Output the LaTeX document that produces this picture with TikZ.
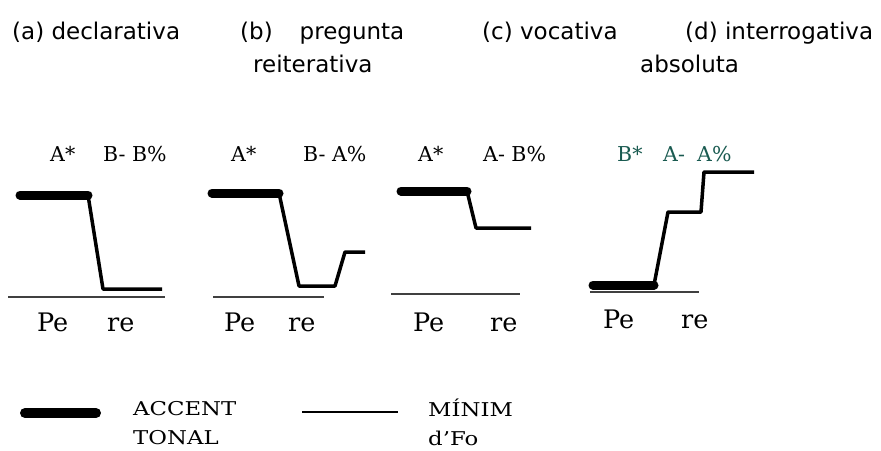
\documentclass[tikz,border=0pt]{standalone}
\usepackage{fontspec}
\setmainfont{DejaVu Serif}
\newfontfamily\titlefont{DejaVu Sans}
\definecolor{tealtone}{RGB}{25,90,80}
\begin{document}
\begin{tikzpicture}[x=1pt,y=-1pt,
  title/.style={anchor=base west,inner sep=0pt,font=\titlefont\fontsize{23}{28}\selectfont},
  tone/.style={anchor=base west,inner sep=0pt,font=\fontsize{20.5}{24}\selectfont},
  syl/.style={anchor=base west,inner sep=0pt,font=\fontsize{25.5}{28}\selectfont},
  leg/.style={anchor=base west,inner sep=0pt,font=\fontsize{19}{24}\selectfont},
  accentline/.style={line width=9pt,line cap=round,line join=round},
  contour/.style={line width=3.5pt,line join=round},
  minline/.style={line width=1.6pt,black!75}]
\useasboundingbox[fill=white] (0,0) rectangle (881,450);

% titles
\node[title] (ta) at (12,39) {(a) declarativa};
\node[title] (tb) at (240,39) {(b)\hspace{27pt}pregunta};
\node[title] (tb2) at (253,72) {reiterativa};
\node[title] (tc) at (482,39) {(c) vocativa};
\node[title] (td) at (685,39) {(d) interrogativa};
\node[title] (td2) at (640,72) {absoluta};

% panel (a)
\node[tone] (a1) at (50,161) {A*};
\node[tone] (a2) at (103,161) {B- B\%};
\draw[accentline] (20,195) -- (88,195);
\draw[contour] (88,195) -- (103,289) -- (162,289);
\draw[minline] (8,297) -- (165,297);
\node[syl] (ape) at (37,331) {Pe};
\node[syl] (are) at (107,331) {re};

% panel (b)
\node[tone] (b1) at (231,161) {A*};
\node[tone] (b2) at (303,161) {B- A\%};
\draw[accentline] (212,193) -- (279,193);
\draw[contour] (279,193) -- (299,286) -- (335,286) -- (345,252) -- (365,252);
\draw[minline] (213,297) -- (324,297);
\node[syl] (bpe) at (224,331) {Pe};
\node[syl] (bre) at (288,331) {re};

% panel (c)
\node[tone] (c1) at (418,161) {A*};
\node[tone] (c2) at (483,161) {A- B\%};
\draw[accentline] (401,191) -- (467,191);
\draw[contour] (467,191) -- (476,228) -- (531,228);
\draw[minline] (391,294) -- (520,294);
\node[syl] (cpe) at (413,331) {Pe};
\node[syl] (cre) at (490,331) {re};

% panel (d)
\node[tone,text=tealtone] (d1) at (617,161) {B*};
\node[tone,text=tealtone] (d2) at (663,161) {A-};
\node[tone,text=tealtone] (d3) at (697,161) {A\%};
\draw[accentline] (593,285) -- (654,285);
\draw[contour] (654,285) -- (668,212) -- (701,212) -- (704,172) -- (754,172);
\draw[minline] (590,292) -- (699,292);
\node[syl] (dpe) at (603,328) {Pe};
\node[syl] (dre) at (681,328) {re};

% legend
\draw[line width=10pt,line cap=round] (25,413) -- (96,413);
\node[leg] (l1) at (133,415) {\scalebox{1.2}[1]{ACCENT}};
\node[leg] (l2) at (133,444) {\scalebox{1.2}[1]{TONAL}};
\draw[line width=2pt] (302,412) -- (398,412);
\node[leg] (l3) at (428,416) {\scalebox{1.2}[1]{MÍNIM}};
\node[leg] (l4) at (428,445) {\scalebox{1.2}[1]{d'Fo}};
\end{tikzpicture}
\end{document}
